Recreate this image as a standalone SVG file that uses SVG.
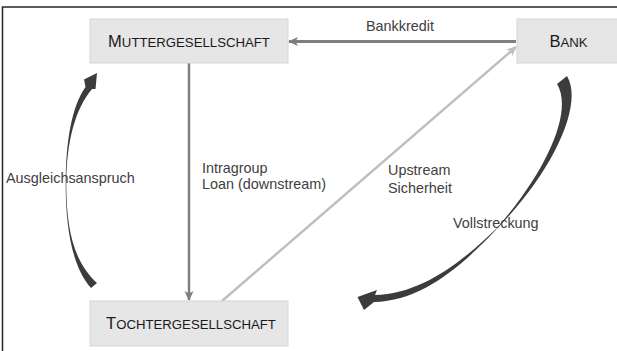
<svg xmlns="http://www.w3.org/2000/svg" width="617" height="351" viewBox="0 0 617 351">
<defs>
<style>
.box{fill:#e6e6e6;stroke:#d6d6d6;stroke-width:1}
.nl{font-family:"Liberation Sans",Arial,sans-serif;fill:#1a1a1a;font-size:13.2px}
.big{font-size:16.5px}
.el{font-family:"Liberation Sans",Arial,sans-serif;fill:#404040;font-size:14.4px}
.curv{fill:#3c3c3c}
</style>
<marker id="ah" markerWidth="10" markerHeight="10" refX="9" refY="5" orient="auto" markerUnits="userSpaceOnUse" viewBox="0 0 10 10">
<path d="M0,0.5 L10,5 L0,9.5 L2.5,5 z" fill="#7f7f7f"/>
</marker>
<marker id="ahl" markerWidth="10" markerHeight="10" refX="9" refY="5" orient="auto" markerUnits="userSpaceOnUse" viewBox="0 0 10 10">
<path d="M0,0.5 L10,5 L0,9.5 L2.5,5 z" fill="#bfbfbf"/>
</marker>
</defs>
<rect width="617" height="351" fill="#ffffff"/>
<path d="M2.5,351 V7 H617" fill="none" stroke="#262626" stroke-width="1.5"/>
<g id="connectors">
<line x1="516" y1="41.5" x2="289" y2="41.5" stroke="#7f7f7f" stroke-width="3" marker-end="url(#ah)"/>
<line x1="189" y1="63" x2="189" y2="300" stroke="#7f7f7f" stroke-width="2.5" marker-end="url(#ah)"/>
<line x1="222" y1="301" x2="516" y2="47" stroke="#bfbfbf" stroke-width="2.5" marker-end="url(#ahl)"/>
<path class="curv" d="M91,288 C73,268 65.7,230 65.7,185 C65.8,140 72,106 85.5,87 L84,79.5 L97,73 L95.5,89 L92,89 C76,108 66.3,140 66.3,185 C66.4,230 74,262 97,283 Z"/>
<path class="curv" d="M567,76 C584,104 553,172 497.3,228.3 C462,266 422,301 374,302 L364,310 L357.5,297 L377,290 L375,295 C420,294 460,264 497,228 C549,168 573,110 557,84 Z"/>
<text class="el" x="366" y="31">Bankkredit</text>
<text class="el" x="202" y="173">Intragroup</text>
<text class="el" x="202" y="189">Loan (downstream)</text>
<text class="el" x="388" y="175">Upstream</text>
<text class="el" x="388" y="193">Sicherheit</text>
<text class="el" x="453" y="228">Vollstreckung</text>
<text class="el" x="6" y="183">Ausgleichsanspruch</text>
</g>
<g id="mutter">
<rect class="box" x="90" y="19" width="198" height="44"/>
<text class="nl" x="189" y="47" text-anchor="middle"><tspan class="big">M</tspan>UTTERGESELLSCHAFT</text>
</g>
<g id="bank">
<rect class="box" x="517" y="19" width="110" height="44"/>
<text class="nl" x="568.5" y="47" text-anchor="middle"><tspan class="big">B</tspan>ANK</text>
</g>
<g id="tochter">
<rect class="box" x="90" y="301" width="198" height="45"/>
<text class="nl" x="191" y="329" text-anchor="middle"><tspan class="big">T</tspan>OCHTERGESELLSCHAFT</text>
</g>
</svg>
